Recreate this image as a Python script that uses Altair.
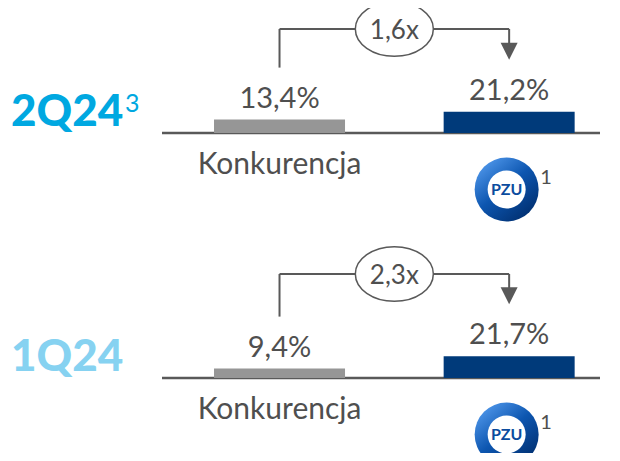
import altair as alt
import pandas as pd

# ---- data ----
periods = ["2Q24", "1Q24"]
period_notes = ["3", ""]
period_colors = ["#00A8E1", "#86D2F1"]
categories = ["Konkurencja", "PZU"]
competitor_values = [13.4, 9.4]
pzu_values = [21.2, 21.7]
multipliers = ["1,6x", "2,3x"]
bar_colors = ["#969696", "#003A7A"]
pzu_note = "1"

# ---- layout helpers ----
PANEL_GAP = 245
BRACKET_TOP = 104
BRACKET_OFF = 52
LABEL_OFF = 21
n = len(periods)
base = [(n - 1 - i) * PANEL_GAP for i in range(n)]
cat_pos = {c: j for j, c in enumerate(categories)}

TEXT = "#4F4F4F"
LINE = "#595959"
FONT = "Lato"


def fmt(v):
    return f"{v:.1f}%".replace(".", ",")


bar_rows, panel_rows = [], []
for i, p in enumerate(periods):
    vals = [competitor_values[i], pzu_values[i]]
    for c, v in zip(categories, vals):
        bar_rows.append(dict(period=p, cat=c, pos=cat_pos[c], base=base[i],
                             top=base[i] + v, label=fmt(v),
                             label_y=base[i] + v + LABEL_OFF))
    panel_rows.append(dict(
        period=p, note=period_notes[i], base=base[i],
        x0=0, x1=1, xm=0.5,
        left_lo=base[i] + competitor_values[i] + BRACKET_OFF,
        top=base[i] + BRACKET_TOP,
        arrow_c=base[i] + pzu_values[i] + BRACKET_OFF + 8.5,
        arrow_top=base[i] + pzu_values[i] + BRACKET_OFF + 15,
        mult=multipliers[i],
        period_y=base[i] + 20, note_y=base[i] + 29,
        cat_y=base[i] - 32, logo_y=base[i] - 56.5, pnote_y=base[i] - 45,
        cat_label=categories[0], logo="PZU", pnote=pzu_note,
    ))

bars_df = pd.DataFrame(bar_rows)
panel_df = pd.DataFrame(panel_rows)

xs = alt.Scale(domain=[-1.1606, 1.4261], nice=False, zero=False)
ys = alt.Scale(domain=[-75, 370], nice=False, zero=False)

B = alt.Chart(bars_df)
P = alt.Chart(panel_df)

layers = []
baseline = P.mark_rule(color=LINE, strokeWidth=2.5).encode(
    x=alt.value(154), x2=alt.value(592), y=alt.Y("base:Q", scale=ys, axis=None))
layers.append(baseline)

for c, col in zip(categories, bar_colors):
    layers.append(B.transform_filter(alt.datum.cat == c).mark_bar(size=131, color=col).encode(
        x=alt.X("pos:Q", scale=xs, axis=None),
        y=alt.Y("base:Q", scale=ys, axis=None),
        y2="top:Q",
    ))

layers.append(B.mark_text(font=FONT, fontSize=29, color=TEXT, baseline="middle").encode(
    x=alt.X("pos:Q", scale=xs), y=alt.Y("label_y:Q", scale=ys), text="label:N"))

layers.append(P.mark_rule(color=LINE, strokeWidth=2).encode(
    x=alt.X("x0:Q", scale=xs), y=alt.Y("left_lo:Q", scale=ys), y2="top:Q"))
layers.append(P.mark_rule(color=LINE, strokeWidth=2).encode(
    x=alt.X("x0:Q", scale=xs), x2="x1:Q", y=alt.Y("top:Q", scale=ys)))
layers.append(P.mark_rule(color=LINE, strokeWidth=2).encode(
    x=alt.X("x1:Q", scale=xs), y=alt.Y("arrow_top:Q", scale=ys), y2="top:Q"))
layers.append(P.mark_point(shape="M -1 -1 L 1 -1 L 0 1 Z", size=289, filled=True,
                           color=LINE, opacity=1).encode(
    x=alt.X("x1:Q", scale=xs), y=alt.Y("arrow_c:Q", scale=ys)))
layers.append(P.mark_point(
    shape="M -1 0 A 1 0.7 0 1 0 1 0 A 1 0.7 0 1 0 -1 0 Z", size=6084,
    fill="white", fillOpacity=1, stroke=LINE, strokeWidth=1.5, opacity=1
).encode(x=alt.X("xm:Q", scale=xs), y=alt.Y("top:Q", scale=ys)))
layers.append(P.mark_text(font=FONT, fontSize=26, color=TEXT, baseline="middle", dy=2).encode(
    x=alt.X("xm:Q", scale=xs), y=alt.Y("top:Q", scale=ys), text="mult:N"))

for p, col in zip(periods, period_colors):
    Pf = P.transform_filter(alt.datum.period == p)
    layers.append(Pf.mark_text(font=FONT, fontSize=44, fontWeight=900, align="left",
                               baseline="middle", color=col).encode(
        x=alt.value(3), y=alt.Y("period_y:Q", scale=ys), text="period:N"))
    layers.append(Pf.mark_text(font=FONT, fontSize=25, align="left", baseline="middle",
                               color=col).encode(
        x=alt.value(117), y=alt.Y("note_y:Q", scale=ys), text="note:N"))

layers.append(P.mark_text(font=FONT, fontSize=30, color=TEXT, baseline="middle").encode(
    x=alt.X("x0:Q", scale=xs), y=alt.Y("cat_y:Q", scale=ys), text="cat_label:N"))

ring = alt.Gradient(
    gradient="linear", x1=0.15, y1=0.1, x2=0.85, y2=0.95,
    stops=[alt.GradientStop(color="#4A92E6", offset=0),
           alt.GradientStop(color="#0D56B0", offset=0.45),
           alt.GradientStop(color="#002E6E", offset=1)])
layers.append(P.mark_point(shape="circle", size=4096, filled=True, fill=ring,
                           opacity=1, xOffset=-2.5).encode(
    x=alt.X("x1:Q", scale=xs), y=alt.Y("logo_y:Q", scale=ys)))
layers.append(P.mark_point(shape="circle", size=1444, filled=True, color="white",
                           opacity=1, xOffset=-2.5).encode(
    x=alt.X("x1:Q", scale=xs), y=alt.Y("logo_y:Q", scale=ys)))
layers.append(P.mark_text(font=FONT, fontSize=16, fontWeight="bold", color="#0B4C9E",
                          baseline="middle", dx=-2.5).encode(
    x=alt.X("x1:Q", scale=xs), y=alt.Y("logo_y:Q", scale=ys), text="logo:N"))
layers.append(P.mark_text(font=FONT, fontSize=20, color=TEXT, baseline="middle", dx=37).encode(
    x=alt.X("x1:Q", scale=xs), y=alt.Y("pnote_y:Q", scale=ys), text="pnote:N"))

chart = alt.layer(*layers).properties(
    width=604, height=445, autosize=alt.AutoSizeParams(type="none"), padding=0,
    background="white",
).configure_view(stroke=None)

chart.save("out.html", embed_options={"renderer": "svg", "actions": False})
